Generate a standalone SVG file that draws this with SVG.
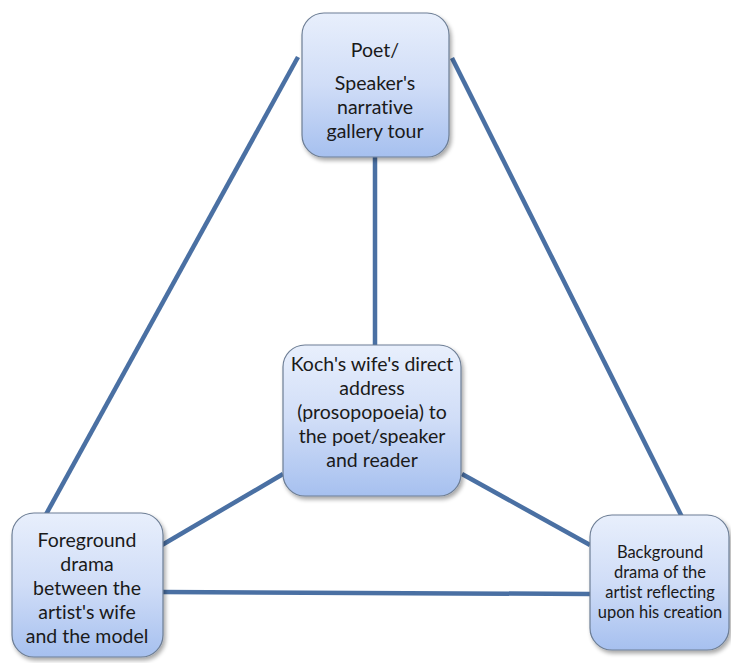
<svg xmlns="http://www.w3.org/2000/svg" width="731" height="663" viewBox="0 0 731 663">
<defs>
<linearGradient id="g" x1="0" y1="0" x2="0" y2="1">
<stop offset="0" stop-color="#e8effc"/>
<stop offset="0.5" stop-color="#d0ddf7"/>
<stop offset="1" stop-color="#a6c0ef"/>
</linearGradient>
<filter id="sh" x="-10%" y="-10%" width="130%" height="130%">
<feGaussianBlur in="SourceAlpha" stdDeviation="2"/>
<feOffset dx="2" dy="3"/>
<feComponentTransfer><feFuncA type="linear" slope="0.35"/></feComponentTransfer>
<feMerge><feMergeNode/><feMergeNode in="SourceGraphic"/></feMerge>
</filter>
</defs>
<style>
.c{stroke:#4a70a3;stroke-width:4.5;fill:none;stroke-linecap:butt}
.b{fill:url(#g);stroke:#6d7e95;stroke-width:1.2;filter:url(#sh)}
.t{font-family:Lato,"Liberation Sans",sans-serif;font-size:19.5px;fill:#1a1a1a;text-anchor:middle;font-variant-ligatures:none}
.s{font-family:Lato,"Liberation Sans",sans-serif;font-size:16.5px;fill:#1a1a1a;text-anchor:middle;font-variant-ligatures:none}
</style>
<rect width="731" height="663" fill="#ffffff"/>
<g id="connectors">
<line class="c" x1="298" y1="57" x2="44" y2="518"/>
<line class="c" x1="452" y1="58" x2="682" y2="517"/>
<line class="c" x1="375" y1="157" x2="375" y2="345"/>
<line class="c" x1="283" y1="474" x2="162" y2="545"/>
<line class="c" x1="462" y1="474" x2="590" y2="545"/>
<line class="c" x1="162" y1="592" x2="590" y2="594"/>
</g>
<g id="poet">
<rect class="b" x="302" y="13" width="147" height="144" rx="22"/>
<text class="t" x="375" y="57">Poet/</text>
<text class="t" x="375" y="90">Speaker's</text>
<text class="t" x="375" y="114">narrative</text>
<text class="t" x="375" y="138">gallery tour</text>
</g>
<g id="center">
<rect class="b" x="283" y="345" width="178" height="151" rx="22"/>
<text class="t" x="372" y="371">Koch's wife's direct</text>
<text class="t" x="372" y="395">address</text>
<text class="t" x="372" y="419">(prosopopoeia) to</text>
<text class="t" x="372" y="443">the poet/speaker</text>
<text class="t" x="372" y="467">and reader</text>
</g>
<g id="foreground">
<rect class="b" x="12" y="513" width="151" height="144" rx="22"/>
<text class="t" x="87" y="547">Foreground</text>
<text class="t" x="87" y="571">drama</text>
<text class="t" x="87" y="595">between the</text>
<text class="t" x="87" y="619">artist's wife</text>
<text class="t" x="87" y="643">and the model</text>
</g>
<g id="background">
<rect class="b" x="590" y="515" width="139" height="135" rx="22"/>
<text class="s" x="660" y="558">Background</text>
<text class="s" x="660" y="578">drama of the</text>
<text class="s" x="660" y="598">artist reflecting</text>
<text class="s" x="660" y="618">upon his creation</text>
</g>
</svg>
